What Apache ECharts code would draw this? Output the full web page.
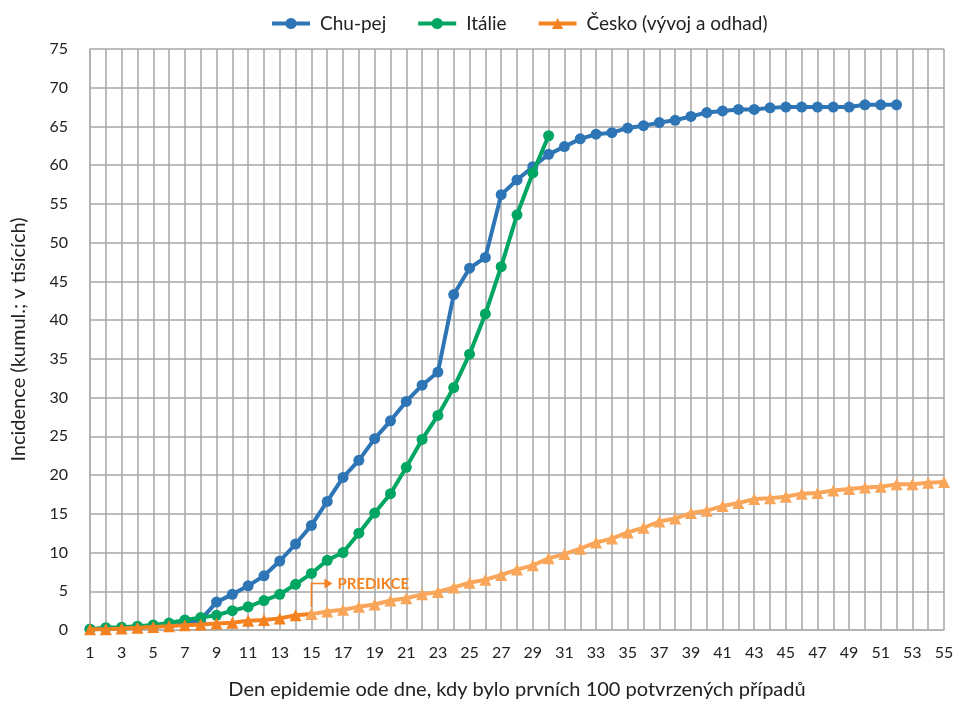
<!DOCTYPE html>
<html>
<head>
<meta charset="utf-8">
<script src="https://cdn.jsdelivr.net/npm/echarts@6/dist/echarts.min.js"></script>
<style>html,body{margin:0;padding:0;background:#fff}#c{width:957px;height:702px}</style>
</head>
<body>
<div id="c"></div>
<script>
const days = Array.from({length: 55}, (_, i) => String(i + 1));
const chuPej = [0.1,0.2,0.3,0.4,0.5,0.6,0.9,1.3,3.6,4.6,5.7,7.0,8.9,11.1,13.5,16.6,19.7,21.9,24.7,27.0,29.5,31.6,33.3,43.3,46.7,48.1,56.2,58.1,59.8,61.4,62.4,63.4,64.0,64.2,64.8,65.1,65.5,65.8,66.3,66.8,67.0,67.2,67.2,67.4,67.5,67.5,67.5,67.5,67.5,67.8,67.8,67.8];
const italie = [0.1,0.3,0.35,0.5,0.65,0.9,1.3,1.6,1.9,2.5,3.0,3.8,4.6,5.9,7.3,9.0,10.0,12.5,15.1,17.6,21.0,24.6,27.7,31.3,35.6,40.8,46.9,53.6,59.0,63.8];
const ceskoVyvoj = [0.1,0.1,0.2,0.3,0.4,0.5,0.6,0.7,0.85,0.95,1.2,1.3,1.5,1.9,2.05];
const ceskoOdhad = [2.05,2.4,2.6,3.0,3.3,3.8,4.1,4.6,4.9,5.5,6.1,6.5,7.1,7.8,8.35,9.25,9.8,10.5,11.3,11.8,12.6,13.2,14.0,14.4,15.1,15.4,16.0,16.4,16.9,17.0,17.2,17.6,17.7,18.0,18.2,18.4,18.5,18.8,18.8,19.0,19.1];
const predStartDay = 15;
const predLabelLevel = 6;
const yTicks = {min: 0, max: 75, interval: 5};

const ceskoName = 'Česko (vývoj a odhad)';
const odhadData = days.map((d, i) => i >= predStartDay - 1 ? ceskoOdhad[i - (predStartDay - 1)] : '-');

const FONT = 'Lato';
const chart = echarts.init(document.getElementById('c'));
chart.setOption({
  animation: false,
  textStyle: {fontFamily: FONT},
  grid: {left: 90, right: 13, top: 49, bottom: 72, containLabel: false, outerBoundsMode: 'none'},
  legend: {
    top: 9, left: 265, itemGap: 30, itemWidth: 38, itemHeight: 14,
    lineStyle: {width: 4},
    textStyle: {fontSize: 19, color: '#222', fontFamily: FONT, padding: [0, 0, 0, 5]},
    data: ['Chu-pej', 'Itálie', ceskoName]
  },
  xAxis: {
    type: 'category', data: days, boundaryGap: false,
    name: 'Den epidemie ode dne, kdy bylo prvních 100 potvrzených případů',
    nameLocation: 'middle', nameGap: 50,
    nameTextStyle: {fontSize: 20, color: '#222'},
    axisLine: {lineStyle: {color: '#b0b0b0', width: 1.5}},
    axisTick: {show: false},
    axisLabel: {interval: 1, fontSize: 16, color: '#222', margin: 15},
    splitLine: {show: true, interval: 0, lineStyle: {color: '#a6a6a6', width: 1.5}}
  },
  yAxis: {
    type: 'value', min: yTicks.min, max: yTicks.max, interval: yTicks.interval,
    name: 'Incidence (kumul.; v tisících)', nameLocation: 'middle', nameGap: 61,
    nameTextStyle: {fontSize: 20, color: '#222'},
    axisLine: {show: true, lineStyle: {color: '#b0b0b0', width: 1.5}},
    axisTick: {show: false},
    axisLabel: {fontSize: 16, color: '#222', margin: 22},
    splitLine: {lineStyle: {color: '#a6a6a6', width: 1.5}}
  },
  series: [
    {name: 'Chu-pej', type: 'line', data: chuPej, color: '#2E75B6', showAllSymbol: true,
     symbol: 'circle', symbolSize: 11, lineStyle: {width: 4}, z: 3},
    {name: 'Itálie', type: 'line', data: italie, color: '#00A661', showAllSymbol: true,
     symbol: 'circle', symbolSize: 11, lineStyle: {width: 4}, z: 4},
    {name: ceskoName, type: 'line', data: ceskoVyvoj, color: '#F58220', showAllSymbol: true,
     symbol: 'triangle', symbolSize: 12, lineStyle: {width: 4}, z: 5},
    {name: ceskoName, type: 'line', data: odhadData, color: '#F9A65A', showAllSymbol: true,
     symbol: 'triangle', symbolSize: 12, lineStyle: {width: 4}, z: 6}
  ]
});

const basePt = chart.convertToPixel({gridIndex: 0}, [predStartDay - 1, ceskoOdhad[0]]);
const topPt = chart.convertToPixel({gridIndex: 0}, [predStartDay - 1, predLabelLevel]);
const ox = basePt[0], oy = basePt[1] - 7, ty = topPt[1];
chart.setOption({
  graphic: [
    {type: 'polyline', shape: {points: [[ox, oy], [ox, ty], [ox + 14, ty]]},
     style: {stroke: '#F58220', lineWidth: 1.5, fill: null}, z: 100, zlevel: 1},
    {type: 'polygon', shape: {points: [[ox + 13, ty - 5], [ox + 21, ty], [ox + 13, ty + 5]]},
     style: {fill: '#F58220'}, z: 100, zlevel: 1},
    {type: 'text', x: ox + 26, y: ty + 1, style: {text: 'PREDIKCE', fill: '#F58220',
     font: 'bold 15px Lato', textVerticalAlign: 'middle', textAlign: 'left'}, z: 100, zlevel: 1}
  ]
});
</script>
</body>
</html>
